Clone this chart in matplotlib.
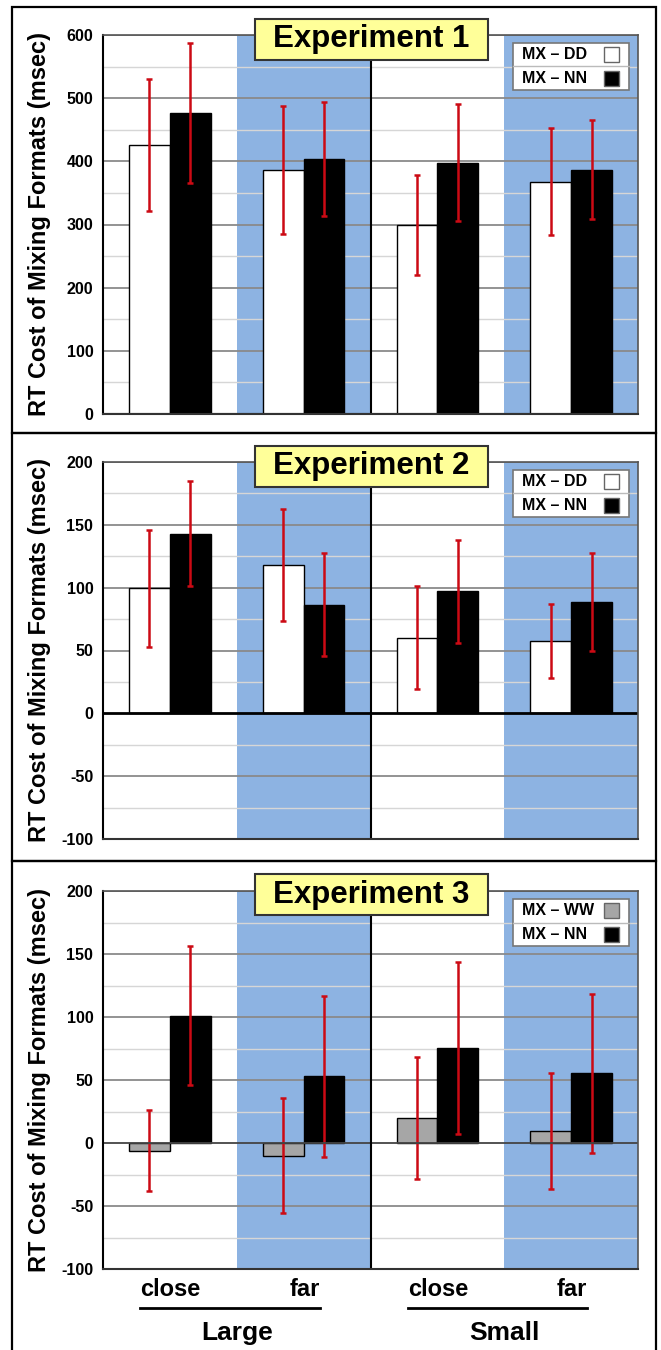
import numpy as np
import matplotlib
matplotlib.use('Agg')
import matplotlib.pyplot as plt
from matplotlib.patches import Rectangle
from matplotlib.lines import Line2D
from matplotlib.transforms import blended_transform_factory

plt.rcParams['font.family'] = ['Liberation Sans', 'DejaVu Sans']
plt.rcParams['font.weight'] = 'bold'

# data (msec)
conditions = ['close', 'far', 'close', 'far']
sizes = ['Large', 'Small']

exp1_dd = [426, 386, 299, 368]
exp1_dd_err = [104, 101, 79, 85]
exp1_nn = [477, 404, 398, 387]
exp1_nn_err = [111, 90, 92, 78]

exp2_dd = [99.5, 118, 60, 57.5]
exp2_dd_err = [46.5, 44.6, 41, 29.5]
exp2_nn = [143, 86.5, 97, 88.5]
exp2_nn_err = [42, 40.7, 41, 39.2]

exp3_ww = [-6, -10, 20, 9.5]
exp3_ww_err = [32, 45.7, 48.6, 46.2]
exp3_nn = [101, 53, 75.5, 55.5]
exp3_nn_err = [55, 63.8, 68.3, 63.1]

BLUE = '#8DB3E2'
RED = '#CC0A14'

fig = plt.figure(figsize=(6.61, 13.5), dpi=100)
W, H = 661.0, 1350.0


def panel(top_px, bot_px, a, a_err, b, b_err, a_col, a_name, title, ylim, major, zero_lw, zero_col):
    ax = fig.add_axes([103 / W, 1 - bot_px / H, 535 / W, (bot_px - top_px) / H])
    x = np.arange(4) + 0.5
    ax.set_xlim(0, 4)
    ax.set_ylim(*ylim)
    # shaded "far" columns
    for i in (1, 3):
        ax.axvspan(i, i + 1, color=BLUE, zorder=0, lw=0)
    # gridlines
    for v in np.arange(ylim[0], ylim[1] + 0.1, major / 2):
        if abs(v) < 1e-9:
            continue
        is_major = abs((v / major) - round(v / major)) < 1e-6
        ax.axhline(v, color='#8a8a8a' if is_major else '#d6d6d6',
                   lw=1.3 if is_major else 1.0, zorder=1)
    w = 0.305
    ax.bar(x - w / 2, a, w, color=a_col, edgecolor='black', lw=1.0, zorder=3)
    ax.bar(x + w / 2, b, w, color='black', edgecolor='black', lw=1.0, zorder=3)
    ax.errorbar(x - w / 2, a, yerr=a_err, fmt='none', ecolor=RED, elinewidth=1.8,
                capsize=2.5, capthick=1.8, zorder=4)
    ax.errorbar(x + w / 2, b, yerr=b_err, fmt='none', ecolor=RED, elinewidth=1.8,
                capsize=2.5, capthick=1.8, zorder=4)
    ax.axhline(0, color=zero_col, lw=zero_lw, zorder=5)
    ax.axvline(2, color='black', lw=1.5, zorder=5)

    ax.set_yticks(np.arange(ylim[0], ylim[1] + 0.1, major))
    ax.set_yticklabels(['%d' % v for v in np.arange(ylim[0], ylim[1] + 0.1, major)])
    ax.set_xticks([])
    ax.tick_params(axis='y', length=0, pad=7, labelsize=11.5)
    for lab in ax.get_yticklabels():
        lab.set_fontweight('bold')
    for s in ax.spines.values():
        s.set_color('#555555')
        s.set_linewidth(1.2)
        s.set_zorder(6)
    ax.spines['left'].set_color('black')
    ax.spines['left'].set_linewidth(1.5)
    ax.spines['bottom'].set_color('#333333')
    ax.spines['bottom'].set_linewidth(1.5)
    ax.set_ylabel('RT Cost of Mixing Formats (msec)', fontsize=17, fontweight='bold')
    ax.yaxis.set_label_coords(-0.098, 0.5)

    hpx = bot_px - top_px
    # title box
    bw, bh = 233 / 535, 41 / hpx
    cy = 1 - 4 / hpx
    ax.add_patch(Rectangle((0.501 - bw / 2, cy - bh / 2), bw, bh, transform=ax.transAxes,
                           fc='#FFFF99', ec='#333333', lw=1.5, zorder=10, clip_on=False))
    ax.text(0.501, cy, title, transform=ax.transAxes, ha='center', va='center',
            fontsize=22.5, fontweight='bold', zorder=11)

    # legend box
    lx0, lx1 = 410 / 535, 526 / 535
    ly1 = 1 - 8 / hpx
    ly0 = 1 - 55 / hpx
    ax.add_patch(Rectangle((lx0, ly0), lx1 - lx0, ly1 - ly0, transform=ax.transAxes,
                           fc='white', ec='#777777', lw=1.2, zorder=10))
    ymid = (ly0 + ly1) / 2
    ax.add_line(Line2D([lx0, lx1], [ymid, ymid], transform=ax.transAxes,
                       color='#bbbbbb', lw=1.0, zorder=11))
    sq_w, sq_h = 15 / 535, 15 / hpx
    rows = [(a_name, a_col), ('MX – NN', 'black')]
    for k, (name, col) in enumerate(rows):
        yc = (ly1 + ymid) / 2 if k == 0 else (ymid + ly0) / 2
        ax.text(419 / 535, yc, name, transform=ax.transAxes, ha='left', va='center',
                fontsize=11.5, fontweight='bold', zorder=12)
        ax.add_patch(Rectangle((501 / 535, yc - sq_h / 2), sq_w, sq_h, transform=ax.transAxes,
                               fc=col, ec='#666666', lw=1.0, zorder=12))
    return ax


panel(35, 414, exp1_dd, exp1_dd_err, exp1_nn, exp1_nn_err, 'white', 'MX – DD',
      'Experiment 1', (0, 600), 100, 1.5, 'black')
panel(462, 839, exp2_dd, exp2_dd_err, exp2_nn, exp2_nn_err, 'white', 'MX – DD',
      'Experiment 2', (-100, 200), 50, 2.0, 'black')
ax3 = panel(891, 1269, exp3_ww, exp3_ww_err, exp3_nn, exp3_nn_err, '#A6A6A6', 'MX – WW',
            'Experiment 3', (-100, 200), 50, 1.3, '#444444')

# category labels under the last panel
tr = blended_transform_factory(ax3.transData, fig.transFigure)
for g, size in enumerate(sizes):
    left, right = 2 * g + 0.28, 2 * g + 1.62
    ax3.text(left, 1 - 1296 / H, conditions[2 * g], transform=tr, ha='left', va='baseline',
             fontsize=17, fontweight='bold', clip_on=False)
    ax3.text(right, 1 - 1296 / H, conditions[2 * g + 1], transform=tr, ha='right', va='baseline',
             fontsize=17, fontweight='bold', clip_on=False)
    ax3.add_line(Line2D([left, right], [1 - 1308 / H] * 2, transform=tr, color='black',
                        lw=2.0, clip_on=False))
    ax3.text(2 * g + 1, 1 - 1340 / H, size, transform=tr, ha='center', va='baseline',
             fontsize=19, fontweight='bold', clip_on=False)

# panel frames
for top, bot in [(7, 433), (433, 861), (861, 1352)]:
    fig.add_artist(Rectangle((12 / W, 1 - bot / H), 644 / W, (bot - top) / H,
                             transform=fig.transFigure, fill=False, ec='black', lw=1.6))

fig.savefig('out.png', dpi=100, facecolor='white')
